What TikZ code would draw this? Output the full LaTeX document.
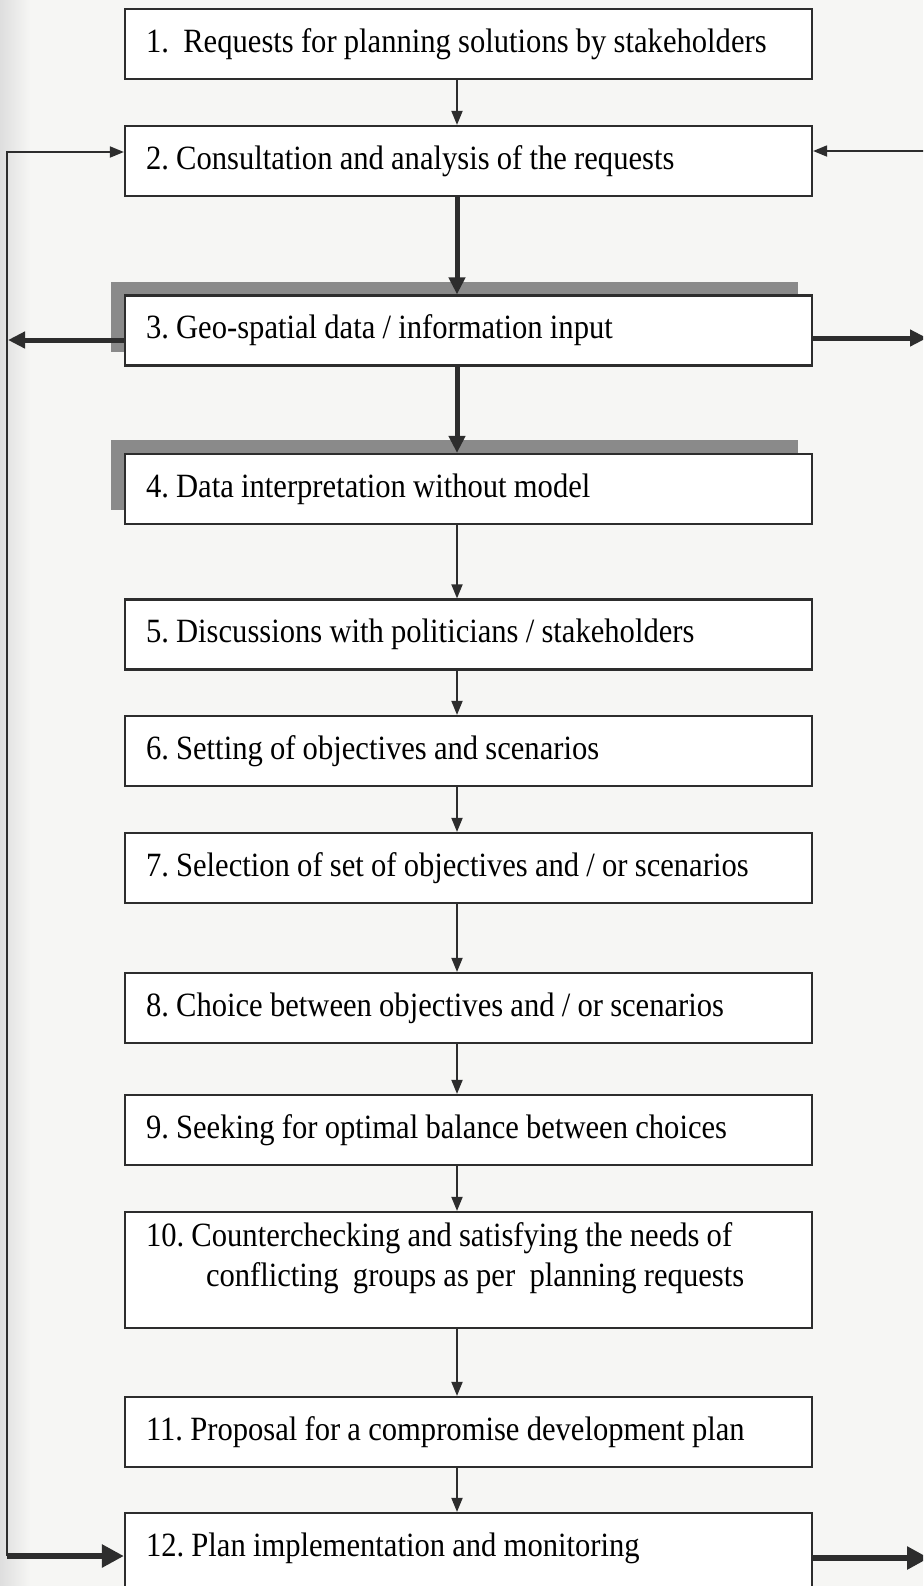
\documentclass[tikz,border=0pt]{standalone}
\usepackage{fontspec}
\setmainfont{Liberation Serif}[FakeStretch=0.90]
\usetikzlibrary{arrows.meta,shadows}
\frenchspacing
\definecolor{paper}{RGB}{246,246,244}
\definecolor{ink}{RGB}{45,45,45}
\definecolor{blockshadow}{RGB}{138,138,138}

\begin{document}
\begin{tikzpicture}[x=0.5pt,y=-0.5pt,
  stage/.style={rectangle, draw=ink, line width=1.1pt, fill=white,
    text width=322.5pt, inner xsep=10.5pt, inner ysep=2pt, align=left,
    font=\fontsize{17pt}{20pt}\selectfont,
    execute at begin node={\spaceskip=3.6pt plus 1pt minus 0.5pt\hyphenpenalty=10000\relax},
    text height=12pt, text depth=4pt, minimum height=35pt},
  raised/.style={drop shadow={shadow xshift=-7pt, shadow yshift=7pt,
    fill=blockshadow, opacity=1}},
  flow/.style={draw=ink, line width=0.9pt, -{Triangle[length=7pt,width=5.5pt]}},
  bold/.style={draw=ink, line width=2.5pt, -{Triangle[length=8.5pt,width=8pt]}},
  heavy/.style={draw=ink, line width=3.2pt, -{Triangle[length=11pt,width=11pt]}}
]
\useasboundingbox (0,0) rectangle (923,1586);
\clip (0,0) rectangle (923,1586);

% paper
\fill[paper] (0,0) rectangle (923,1586);
\shade[left color=black!13, right color=paper] (0,0) rectangle (30,1586);

% process steps
\node[stage] (b1) at (468.5,44) {1.~ Requests for planning solutions by stakeholders};
\node[stage] (b2) at (468.5,161) {2. Consultation and analysis of the requests};
\node[stage,raised] (b3) at (468.5,330.5) {3. Geo-spatial data / information input};
\node[stage,raised] (b4) at (468.5,489) {4. Data interpretation without model};
\node[stage] (b5) at (468.5,634.5) {5. Discussions with politicians / stakeholders};
\node[stage] (b6) at (468.5,751) {6. Setting of objectives and scenarios};
\node[stage] (b7) at (468.5,868) {7. Selection of set of objectives and / or scenarios};
\node[stage] (b8) at (468.5,1008) {8. Choice between objectives and / or scenarios};
\node[stage] (b9) at (468.5,1130) {9. Seeking for optimal balance between choices};
\node[stage, minimum height=58pt, text depth=36pt] (b10) at (468.5,1270)
  {10. Counterchecking and satisfying the needs of\\
   \hspace*{30pt}conflicting~ groups as per~ planning requests};
\node[stage] (b11) at (468.5,1432) {11. Proposal for a compromise development plan};
\node[stage, minimum height=53.5pt, text depth=22.5pt] (b12) at (468.5,1566.5)
  {12. Plan implementation and monitoring};

% main chain
\coordinate (ax) at (457,0);
\draw[flow] (b1.south -| ax) -- (b2.north -| ax);
\draw[bold] (b2.south -| ax) -- (b3.north -| ax);
\draw[bold] (b3.south -| ax) -- (b4.north -| ax);
\foreach \a/\b in {b4/b5,b5/b6,b6/b7,b7/b8,b8/b9,b9/b10,b10/b11,b11/b12}
  \draw[flow] (\a.south -| ax) -- (\b.north -| ax);

% feedback loop on the left
\coordinate (loopTop) at (7,152);
\coordinate (loopBot) at (7,1556);
\draw[flow] (loopBot) -- (loopTop) -- (loopTop -| b2.west);
\draw[heavy] (loopBot) -- (loopBot -| b12.west);

% data input leaving step 3
\coordinate (outL) at (8,340);
\coordinate (outR) at (927,338);
\draw[bold] (b3.west |- outL) -- (outL);
\draw[bold] (b3.east |- outR) -- (outR);

% links at the right edge
\coordinate (inR) at (925,151);
\draw[flow] (inR) -- (inR -| b2.east);
\coordinate (outEnd) at (929,1558);
\draw[heavy] (b12.east |- outEnd) -- (outEnd);
\end{tikzpicture}
\end{document}
